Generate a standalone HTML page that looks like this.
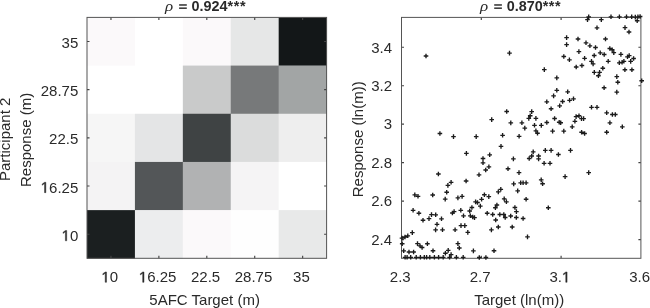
<!DOCTYPE html>
<html><head><meta charset="utf-8"><style>
html,body{margin:0;padding:0;background:#fff;width:650px;height:308px;overflow:hidden}
svg{display:block;will-change:transform}
text{font-family:"Liberation Sans",sans-serif;font-size:15.0px;fill:#2a2a2a}
</style></head><body>
<svg width="650" height="308" viewBox="0 0 650 308">
<rect x="87.00" y="17.40" width="48.22" height="48.48" fill="#fbf9fa"/>
<rect x="134.92" y="17.40" width="48.22" height="48.48" fill="#ffffff"/>
<rect x="182.84" y="17.40" width="48.22" height="48.48" fill="#fbf9fa"/>
<rect x="230.76" y="17.40" width="48.22" height="48.48" fill="#e6e7e7"/>
<rect x="278.68" y="17.40" width="48.22" height="48.48" fill="#131718"/>
<rect x="87.00" y="65.58" width="48.22" height="48.48" fill="#ffffff"/>
<rect x="134.92" y="65.58" width="48.22" height="48.48" fill="#ffffff"/>
<rect x="182.84" y="65.58" width="48.22" height="48.48" fill="#c9caca"/>
<rect x="230.76" y="65.58" width="48.22" height="48.48" fill="#77797a"/>
<rect x="278.68" y="65.58" width="48.22" height="48.48" fill="#a2a5a5"/>
<rect x="87.00" y="113.76" width="48.22" height="48.48" fill="#f6f6f6"/>
<rect x="134.92" y="113.76" width="48.22" height="48.48" fill="#e4e5e6"/>
<rect x="182.84" y="113.76" width="48.22" height="48.48" fill="#3f4344"/>
<rect x="230.76" y="113.76" width="48.22" height="48.48" fill="#dbdcdc"/>
<rect x="278.68" y="113.76" width="48.22" height="48.48" fill="#eeeeee"/>
<rect x="87.00" y="161.94" width="48.22" height="48.48" fill="#f4f3f4"/>
<rect x="134.92" y="161.94" width="48.22" height="48.48" fill="#535658"/>
<rect x="182.84" y="161.94" width="48.22" height="48.48" fill="#b1b2b3"/>
<rect x="230.76" y="161.94" width="48.22" height="48.48" fill="#f5f4f5"/>
<rect x="278.68" y="161.94" width="48.22" height="48.48" fill="#ffffff"/>
<rect x="87.00" y="210.12" width="48.22" height="48.48" fill="#1b1f20"/>
<rect x="134.92" y="210.12" width="48.22" height="48.48" fill="#ecedee"/>
<rect x="182.84" y="210.12" width="48.22" height="48.48" fill="#fbf9fa"/>
<rect x="230.76" y="210.12" width="48.22" height="48.48" fill="#fefefe"/>
<rect x="278.68" y="210.12" width="48.22" height="48.48" fill="#e8e9e9"/>
<path d="M110.96 258.3v-2.5M110.96 17.4v2.5M158.88 258.3v-2.5M158.88 17.4v2.5M206.80 258.3v-2.5M206.80 17.4v2.5M254.72 258.3v-2.5M254.72 17.4v2.5M302.64 258.3v-2.5M302.64 17.4v2.5M87.0 41.49h2.5M326.6 41.49h-2.5M87.0 89.67h2.5M326.6 89.67h-2.5M87.0 137.85h2.5M326.6 137.85h-2.5M87.0 186.03h2.5M326.6 186.03h-2.5M87.0 234.21h2.5M326.6 234.21h-2.5M481.30 258.3v-2.5M481.30 17.4v2.5M561.10 258.3v-2.5M561.10 17.4v2.5M401.5 239.57h2.5M640.9 239.57h-2.5M401.5 201.11h2.5M640.9 201.11h-2.5M401.5 162.65h2.5M640.9 162.65h-2.5M401.5 124.19h2.5M640.9 124.19h-2.5M401.5 85.73h2.5M640.9 85.73h-2.5M401.5 47.27h2.5M640.9 47.27h-2.5" stroke="#444" stroke-width="1.15" fill="none"/>
<rect x="87.0" y="17.4" width="239.60" height="240.90" fill="none" stroke="#555555" stroke-width="1.0"/>
<rect x="401.5" y="17.4" width="239.40" height="240.90" fill="none" stroke="#555555" stroke-width="1.0"/>
<path d="M423.7 56.0h4.6M426.0 53.7v4.6M507.2 53.1h4.6M509.5 50.8v4.6M542.0 69.6h4.6M544.3 67.3v4.6M586.4 16.8h4.6M588.7 14.5v4.6M585.2 19.6h4.6M587.5 17.3v4.6M599.0 19.6h4.6M601.3 17.3v4.6M608.7 16.8h4.6M611.0 14.5v4.6M617.1 16.8h4.6M619.4 14.5v4.6M624.2 16.8h4.6M626.5 14.5v4.6M629.4 16.8h4.6M631.7 14.5v4.6M633.0 17.1h4.6M635.3 14.8v4.6M635.6 16.8h4.6M637.9 14.5v4.6M637.8 16.5h4.6M640.1 14.2v4.6M634.9 20.7h4.6M637.2 18.4v4.6M594.7 27.8h4.6M597.0 25.5v4.6M622.7 27.6h4.6M625.0 25.3v4.6M626.7 32.0h4.6M629.0 29.7v4.6M564.3 37.6h4.6M566.6 35.3v4.6M575.7 39.0h4.6M578.0 36.7v4.6M603.2 39.0h4.6M605.5 36.7v4.6M564.3 44.6h4.6M566.6 42.3v4.6M583.7 42.8h4.6M586.0 40.5v4.6M587.6 45.8h4.6M589.9 43.5v4.6M593.2 47.5h4.6M595.5 45.2v4.6M607.5 48.5h4.6M609.8 46.2v4.6M609.9 49.7h4.6M612.2 47.4v4.6M611.5 52.6h4.6M613.8 50.3v4.6M576.6 51.6h4.6M578.9 49.3v4.6M597.9 52.8h4.6M600.2 50.5v4.6M601.9 54.5h4.6M604.2 52.2v4.6M591.9 55.5h4.6M594.2 53.2v4.6M561.5 56.5h4.6M563.8 54.2v4.6M567.1 59.8h4.6M569.4 57.5v4.6M582.3 58.3h4.6M584.6 56.0v4.6M589.2 61.3h4.6M591.5 59.0v4.6M590.8 63.9h4.6M593.1 61.6v4.6M579.6 65.5h4.6M581.9 63.2v4.6M573.9 67.0h4.6M576.2 64.7v4.6M592.0 72.4h4.6M594.3 70.1v4.6M597.3 72.4h4.6M599.6 70.1v4.6M596.1 75.7h4.6M598.4 73.4v4.6M600.5 68.2h4.6M602.8 65.9v4.6M605.9 61.3h4.6M608.2 59.0v4.6M618.6 54.4h4.6M620.9 52.1v4.6M625.2 56.8h4.6M627.5 54.5v4.6M626.9 55.6h4.6M629.2 53.3v4.6M631.3 58.5h4.6M633.6 56.2v4.6M628.4 61.4h4.6M630.7 59.1v4.6M617.0 62.8h4.6M619.3 60.5v4.6M619.8 62.3h4.6M622.1 60.0v4.6M621.6 61.3h4.6M623.9 59.0v4.6M622.6 69.7h4.6M624.9 67.4v4.6M629.6 69.7h4.6M631.9 67.4v4.6M614.5 76.6h4.6M616.8 74.3v4.6M615.5 82.2h4.6M617.8 79.9v4.6M639.4 80.7h4.6M641.7 78.4v4.6M601.8 87.7h4.6M604.1 85.4v4.6M614.5 92.1h4.6M616.8 89.8v4.6M554.5 77.9h4.6M556.8 75.6v4.6M554.5 90.3h4.6M556.8 88.0v4.6M565.4 91.8h4.6M567.7 89.5v4.6M551.3 95.9h4.6M553.6 93.6v4.6M571.2 98.8h4.6M573.5 96.5v4.6M567.3 100.3h4.6M569.6 98.0v4.6M560.3 101.5h4.6M562.6 99.2v4.6M557.4 105.8h4.6M559.7 103.5v4.6M544.5 101.8h4.6M546.8 99.5v4.6M548.8 108.7h4.6M551.1 106.4v4.6M589.2 107.3h4.6M591.5 105.0v4.6M594.7 107.3h4.6M597.0 105.0v4.6M604.4 112.8h4.6M606.7 110.5v4.6M610.1 114.5h4.6M612.4 112.2v4.6M613.0 114.5h4.6M615.3 112.2v4.6M607.6 122.8h4.6M609.9 120.5v4.6M620.0 126.8h4.6M622.3 124.5v4.6M604.4 132.2h4.6M606.7 129.9v4.6M489.4 119.6h4.6M491.7 117.3v4.6M504.4 111.5h4.6M506.7 109.2v4.6M529.4 111.6h4.6M531.7 109.3v4.6M527.9 115.7h4.6M530.2 113.4v4.6M526.5 118.4h4.6M528.8 116.1v4.6M533.6 118.4h4.6M535.9 116.1v4.6M552.3 118.5h4.6M554.6 116.2v4.6M508.5 122.9h4.6M510.8 120.6v4.6M519.6 122.8h4.6M521.9 120.5v4.6M544.5 122.5h4.6M546.8 120.2v4.6M532.2 125.3h4.6M534.5 123.0v4.6M539.0 125.4h4.6M541.3 123.1v4.6M522.5 128.1h4.6M524.8 125.8v4.6M533.6 130.8h4.6M535.9 128.5v4.6M535.2 133.2h4.6M537.5 130.9v4.6M550.3 131.1h4.6M552.6 128.8v4.6M500.3 135.3h4.6M502.6 133.0v4.6M516.8 136.3h4.6M519.1 134.0v4.6M556.9 122.2h4.6M559.2 119.9v4.6M558.4 122.7h4.6M560.7 120.4v4.6M573.8 116.6h4.6M576.1 114.3v4.6M576.7 115.7h4.6M579.0 113.4v4.6M579.2 118.6h4.6M581.5 116.3v4.6M581.3 118.6h4.6M583.6 116.3v4.6M572.6 121.3h4.6M574.9 119.0v4.6M569.9 126.8h4.6M572.2 124.5v4.6M561.5 131.1h4.6M563.8 128.8v4.6M579.3 132.2h4.6M581.6 129.9v4.6M582.3 133.5h4.6M584.6 131.2v4.6M437.6 133.5h4.6M439.9 131.2v4.6M451.2 136.6h4.6M453.5 134.3v4.6M473.9 136.6h4.6M476.2 134.3v4.6M498.7 146.4h4.6M501.0 144.1v4.6M464.1 153.4h4.6M466.4 151.1v4.6M487.4 154.8h4.6M489.7 152.5v4.6M480.7 158.5h4.6M483.0 156.2v4.6M480.7 162.8h4.6M483.0 160.5v4.6M511.1 158.9h4.6M513.4 156.6v4.6M486.6 166.8h4.6M488.9 164.5v4.6M483.4 170.0h4.6M485.7 167.7v4.6M505.7 168.7h4.6M508.0 166.4v4.6M476.7 174.8h4.6M479.0 172.5v4.6M543.0 150.4h4.6M545.3 148.1v4.6M548.8 150.4h4.6M551.1 148.1v4.6M568.2 150.4h4.6M570.5 148.1v4.6M530.9 151.9h4.6M533.2 149.6v4.6M556.1 154.5h4.6M558.4 152.2v4.6M529.4 156.0h4.6M531.7 153.7v4.6M526.9 158.5h4.6M529.2 156.2v4.6M536.3 156.0h4.6M538.6 153.7v4.6M536.3 158.9h4.6M538.6 156.6v4.6M541.8 163.3h4.6M544.1 161.0v4.6M547.7 163.3h4.6M550.0 161.0v4.6M516.7 172.6h4.6M519.0 170.3v4.6M586.4 172.6h4.6M588.7 170.3v4.6M562.8 176.6h4.6M565.1 174.3v4.6M538.9 179.9h4.6M541.2 177.6v4.6M540.3 183.7h4.6M542.6 181.4v4.6M546.0 207.7h4.6M548.3 205.4v4.6M511.4 183.9h4.6M513.7 181.6v4.6M518.4 182.8h4.6M520.7 180.5v4.6M520.8 182.8h4.6M523.1 180.5v4.6M523.8 182.8h4.6M526.1 180.5v4.6M515.4 190.9h4.6M517.7 188.6v4.6M498.5 189.3h4.6M500.8 187.0v4.6M496.0 191.9h4.6M498.3 189.6v4.6M482.1 194.7h4.6M484.4 192.4v4.6M486.5 196.6h4.6M488.8 194.3v4.6M501.9 198.9h4.6M504.2 196.6v4.6M504.1 201.8h4.6M506.4 199.5v4.6M523.8 199.2h4.6M526.1 196.9v4.6M494.6 205.0h4.6M496.9 202.7v4.6M493.1 207.7h4.6M495.4 205.4v4.6M512.6 207.5h4.6M514.9 205.2v4.6M514.1 211.6h4.6M516.4 209.3v4.6M484.9 213.2h4.6M487.2 210.9v4.6M490.4 214.5h4.6M492.7 212.2v4.6M497.5 214.5h4.6M499.8 212.2v4.6M501.5 214.5h4.6M503.8 212.2v4.6M502.9 217.5h4.6M505.2 215.2v4.6M508.4 216.0h4.6M510.7 213.7v4.6M514.0 217.5h4.6M516.3 215.2v4.6M520.8 218.5h4.6M523.1 216.2v4.6M493.4 220.0h4.6M495.7 217.7v4.6M496.0 227.0h4.6M498.3 224.7v4.6M509.9 227.0h4.6M512.2 224.7v4.6M489.1 229.9h4.6M491.4 227.6v4.6M525.2 236.9h4.6M527.5 234.6v4.6M491.7 250.7h4.6M494.0 248.4v4.6M436.1 174.0h4.6M438.4 171.7v4.6M463.8 181.0h4.6M466.1 178.7v4.6M448.8 182.3h4.6M451.1 180.0v4.6M445.6 185.4h4.6M447.9 183.1v4.6M444.4 192.2h4.6M446.7 189.9v4.6M430.4 195.0h4.6M432.7 192.7v4.6M442.9 199.1h4.6M445.2 196.8v4.6M455.6 197.9h4.6M457.9 195.6v4.6M459.8 196.4h4.6M462.1 194.1v4.6M479.3 199.3h4.6M481.6 197.0v4.6M473.3 201.9h4.6M475.6 199.6v4.6M475.2 202.5h4.6M477.5 200.2v4.6M478.0 206.1h4.6M480.3 203.8v4.6M469.6 207.5h4.6M471.9 205.2v4.6M467.4 211.0h4.6M469.7 208.7v4.6M458.5 210.3h4.6M460.8 208.0v4.6M461.2 215.8h4.6M463.5 213.5v4.6M468.0 215.8h4.6M470.3 213.5v4.6M470.4 217.0h4.6M472.7 214.7v4.6M472.2 217.6h4.6M474.5 215.3v4.6M450.1 213.0h4.6M452.4 210.7v4.6M451.8 211.6h4.6M454.1 209.3v4.6M439.2 218.8h4.6M441.5 216.5v4.6M434.7 224.3h4.6M437.0 222.0v4.6M433.3 229.9h4.6M435.6 227.6v4.6M440.2 229.8h4.6M442.5 227.5v4.6M452.8 229.8h4.6M455.1 227.5v4.6M458.7 225.6h4.6M461.0 223.3v4.6M462.5 225.6h4.6M464.8 223.3v4.6M465.5 232.4h4.6M467.8 230.1v4.6M412.5 194.9h4.6M414.8 192.6v4.6M415.7 196.3h4.6M418.0 194.0v4.6M410.8 210.3h4.6M413.1 208.0v4.6M416.6 213.2h4.6M418.9 210.9v4.6M429.2 214.6h4.6M431.5 212.3v4.6M433.4 214.8h4.6M435.7 212.5v4.6M426.7 218.6h4.6M429.0 216.3v4.6M420.7 220.2h4.6M423.0 217.9v4.6M410.0 232.6h4.6M412.3 230.3v4.6M405.5 235.8h4.6M407.8 233.5v4.6M402.7 237.0h4.6M405.0 234.7v4.6M399.7 238.1h4.6M402.0 235.8v4.6M399.9 243.7h4.6M402.2 241.4v4.6M415.2 243.6h4.6M417.5 241.3v4.6M417.7 245.8h4.6M420.0 243.5v4.6M419.8 247.5h4.6M422.1 245.2v4.6M425.1 243.7h4.6M427.4 241.4v4.6M401.4 250.8h4.6M403.7 248.5v4.6M406.7 252.0h4.6M409.0 249.7v4.6M411.3 252.0h4.6M413.6 249.7v4.6M430.7 250.7h4.6M433.0 248.4v4.6M455.6 243.6h4.6M457.9 241.3v4.6M457.0 248.0h4.6M459.3 245.7v4.6M445.9 250.4h4.6M448.2 248.1v4.6M443.1 253.2h4.6M445.4 250.9v4.6M448.8 254.6h4.6M451.1 252.3v4.6M471.1 250.9h4.6M473.4 248.6v4.6M402.8 257.3h4.6M405.1 255.0v4.6M404.8 257.3h4.6M407.1 255.0v4.6M408.4 257.3h4.6M410.7 255.0v4.6M413.9 257.3h4.6M416.2 255.0v4.6M418.1 257.3h4.6M420.4 255.0v4.6M422.0 257.3h4.6M424.3 255.0v4.6M424.3 257.3h4.6M426.6 255.0v4.6M427.5 257.3h4.6M429.8 255.0v4.6M432.1 257.3h4.6M434.4 255.0v4.6M436.3 257.3h4.6M438.6 255.0v4.6M440.9 257.3h4.6M443.2 255.0v4.6M447.3 257.3h4.6M449.6 255.0v4.6M454.1 257.3h4.6M456.4 255.0v4.6M460.9 257.3h4.6M463.2 255.0v4.6M477.0 257.5h4.6M479.3 255.2v4.6M483.6 257.5h4.6M485.9 255.2v4.6" stroke="#1c1c1c" stroke-width="1.35" fill="none"/>
<text x="78.30" y="48.09" text-anchor="end" >35</text>
<text x="78.30" y="96.27" text-anchor="end" >28.75</text>
<text x="78.30" y="144.45" text-anchor="end" >22.5</text>
<path transform="translate(40.76,192.63) scale(0.007324,-0.007324)" d="M515 0L515 1237L197 1010L197 1180L530 1409L696 1409L696 0Z" fill="#2a2a2a" stroke="#2a2a2a" stroke-width="60"/>
<text x="78.30" y="192.63" text-anchor="end" >&#8199;6.25</text>
<path transform="translate(61.62,240.81) scale(0.007324,-0.007324)" d="M515 0L515 1237L197 1010L197 1180L530 1409L696 1409L696 0Z" fill="#2a2a2a" stroke="#2a2a2a" stroke-width="60"/>
<text x="78.30" y="240.81" text-anchor="end" >&#8199;0</text>
<path transform="translate(101.42,282.30) scale(0.007324,-0.007324)" d="M515 0L515 1237L197 1010L197 1180L530 1409L696 1409L696 0Z" fill="#2a2a2a" stroke="#2a2a2a" stroke-width="60"/>
<text x="109.76" y="282.30" text-anchor="middle" >&#8199;0</text>
<path transform="translate(138.91,282.30) scale(0.007324,-0.007324)" d="M515 0L515 1237L197 1010L197 1180L530 1409L696 1409L696 0Z" fill="#2a2a2a" stroke="#2a2a2a" stroke-width="60"/>
<text x="157.68" y="282.30" text-anchor="middle" >&#8199;6.25</text>
<text x="205.60" y="282.30" text-anchor="middle" >22.5</text>
<text x="253.52" y="282.30" text-anchor="middle" >28.75</text>
<text x="301.44" y="282.30" text-anchor="middle" >35</text>
<text x="400.30" y="282.30" text-anchor="middle" >2.3</text>
<text x="480.10" y="282.30" text-anchor="middle" >2.7</text>
<path transform="translate(561.98,282.30) scale(0.007324,-0.007324)" d="M515 0L515 1237L197 1010L197 1180L530 1409L696 1409L696 0Z" fill="#2a2a2a" stroke="#2a2a2a" stroke-width="60"/>
<text x="559.90" y="282.30" text-anchor="middle" >3.&#8199;</text>
<text x="639.70" y="282.30" text-anchor="middle" >3.6</text>
<text x="392.00" y="244.87" text-anchor="end" >2.4</text>
<text x="392.00" y="206.41" text-anchor="end" >2.6</text>
<text x="392.00" y="167.95" text-anchor="end" >2.8</text>
<text x="392.00" y="129.49" text-anchor="end" >3</text>
<text x="392.00" y="91.03" text-anchor="end" >3.2</text>
<text x="392.00" y="52.57" text-anchor="end" >3.4</text>
<text x="204.60" y="304.70" text-anchor="middle" >5AFC Target (m)</text>
<text x="519.20" y="304.70" text-anchor="middle" >Target (ln(m))</text>
<text transform="translate(10.2,139.3) rotate(-90)" text-anchor="middle">Participant 2</text>
<text transform="translate(31.3,139.9) rotate(-90)" text-anchor="middle">Response (m)</text>
<text transform="translate(362.6,139.3) rotate(-90)" text-anchor="middle">Response (ln(m))</text>
<text transform="translate(165.00,10.6) scale(1.25,1)" style="font-family:'Liberation Serif';font-style:italic;font-size:13.6px">&#961;</text><rect x="179.10" y="4.25" width="7.7" height="1.45" fill="#2a2a2a"/><rect x="179.10" y="7.45" width="7.7" height="1.45" fill="#2a2a2a"/><text x="191.60" y="10.5" style="font-weight:bold;font-size:14.4px">0.924<tspan style="letter-spacing:0.55px">***</tspan></text>
<text transform="translate(480.10,10.6) scale(1.25,1)" style="font-family:'Liberation Serif';font-style:italic;font-size:13.6px">&#961;</text><rect x="494.20" y="4.25" width="7.7" height="1.45" fill="#2a2a2a"/><rect x="494.20" y="7.45" width="7.7" height="1.45" fill="#2a2a2a"/><text x="506.70" y="10.5" style="font-weight:bold;font-size:14.4px">0.870<tspan style="letter-spacing:0.55px">***</tspan></text>
</svg>
</body></html>
